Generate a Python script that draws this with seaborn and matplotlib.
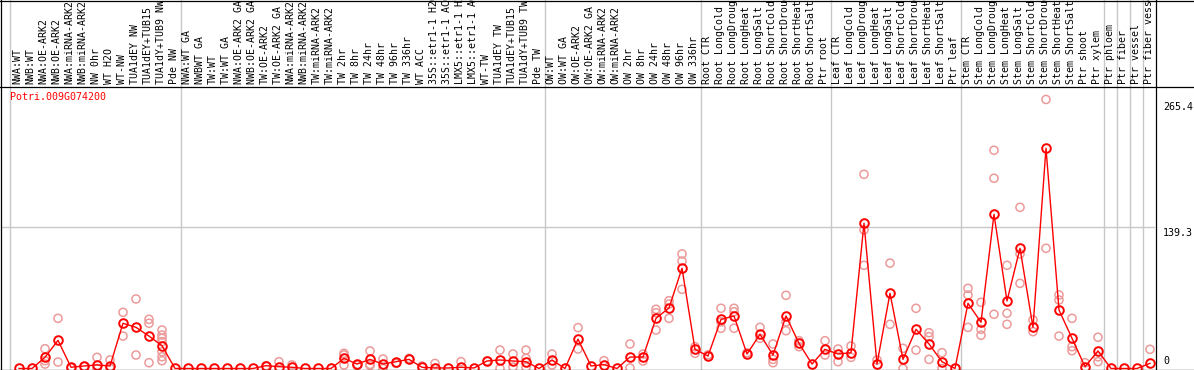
import matplotlib
matplotlib.use("Agg")
import matplotlib.pyplot as plt
import matplotlib.transforms as mtrans
from matplotlib.lines import Line2D
import seaborn as sns
import pandas as pd

gene = "Potri.009G074200"

categories = [
    "NWA:WT", "NWB:WT", "NWA:OE-ARK2", "NWB:OE-ARK2", "NWA:miRNA-ARK2", "NWB:miRNA-ARK2",
    "NW 0hr", "WT H2O", "WT-NW", "TUA1dEY NW", "TUA1dEY+TUB15", "TUA1dY+TUB9 NW", "Pde NW",
    "NWA:WT GA", "NWBWT GA", "TW:WT", "TW:WT GA", "NWA:OE-ARK2 GA", "NWB:OE-ARK2 GA",
    "TW:OE-ARK2", "TW:OE-ARK2 GA", "NWA:miRNA-ARK2", "NWB:miRNA-ARK2", "TW:miRNA-ARK2",
    "TW:miRNA-ARK2", "TW 2hr", "TW 8hr", "TW 24hr", "TW 48hr", "TW 96hr", "TW 336hr",
    "WT ACC", "35S::etr1-1 H2O", "35S::etr1-1 ACC", "LMX5::etr1-1 H2O", "LMX5::etr1-1 ACC",
    "WT-TW", "TUA1dEY TW", "TUA1dEY+TUB15", "TUA1dY+TUB9 TW", "Pde TW",
    "OW:WT", "OW:WT GA", "OW:OE-ARK2", "OW:OE-ARK2 GA", "OW:miRNA-ARK2", "OW:miRNA-ARK2",
    "OW 2hr", "OW 8hr", "OW 24hr", "OW 48hr", "OW 96hr", "OW 336hr",
    "Root CTR", "Root LongCold", "Root LongDrought", "Root LongHeat", "Root LongSalt",
    "Root ShortCold", "Root ShortDrought", "Root ShortHeat", "Root ShortSalt", "Ptr root",
    "Leaf CTR", "Leaf LongCold", "Leaf LongDrought", "Leaf LongHeat", "Leaf LongSalt",
    "Leaf ShortCold", "Leaf ShortDrought", "Leaf ShortHeat", "Leaf ShortSalt", "Ptr leaf",
    "Stem CTR", "Stem LongCold", "Stem LongDrought", "Stem LongHeat", "Stem LongSalt",
    "Stem ShortCold", "Stem ShortDrought", "Stem ShortHeat", "Stem ShortSalt", "Ptr shoot",
    "Ptr xylem", "Ptr phloem", "Ptr fiber", "Ptr vessel", "Ptr fiber vessel",
]

mean_expr = [
    0, 0, 11, 27.8, 1.2, 2.5, 3.5, 2.5, 44.6, 40.6, 32, 22.5, 0,
    0, 0, 0, 0, 0, 0, 2.8, 1.8, 1.2, 0, 0, 0, 10, 4.4, 9, 4.4, 6.7, 9,
    1.2, 0.5, 0.5, 1.2, 0.5, 7.4, 8.4, 7.4, 6.7, 0,
    8.4, 0, 29, 2.5, 3.8, 0, 11.3, 11.3, 49.5, 59.7, 98.9, 18.9,
    12.3, 48.5, 51.8, 14.3, 33.7, 13.3, 51.8, 24.8, 4.4, 18.9,
    14.3, 15.6, 143.3, 4.4, 74.2, 9, 38.7, 24.2, 6.7, 0,
    64.3, 45.6, 152.1, 66.6, 118.6, 40.6, 217.3, 57.7, 29.8, 1.8, 17.3,
    0, 0, 0, 5.1,
]

replicates = [
    [], [], [19.5, 7.7, 4.4], [49.5, 6.4], [0.5], [2], [11, 0], [8.4, 0],
    [55.4, 32], [68.6, 13.3], [48.5, 44.6, 5.7], [38, 33, 29.8, 26.5, 16.6, 11.6, 7.7], [],
    [], [], [], [], [], [], [2.8], [6.7], [3.5], [], [], [],
    [15, 13.3, 3.5], [3], [17.3, 4, 3], [9.4, 0], [5], [10],
    [2.5], [5], [], [6.7], [], [7.4], [18.2, 0], [14.3, 1.5], [18.2, 10, 1.2], [],
    [14.3, 3.5], [], [40.3, 19.2], [], [7.7], [], [24.2, 0.5], [14.3, 7.4],
    [58.4, 55, 38], [66.9, 63.6, 49.5], [113, 106, 78.1], [21.5, 15],
    [13.5], [59.4, 39.7, 46], [59.4, 56, 39.7], [15.5], [40.6, 29.8],
    [24.2, 9, 5.7], [72.2, 37.3, 46], [27.4, 21.5], [], [27.4, 13.3],
    [19.2, 6.7], [22.2, 11], [191.6, 136.7, 101.8], [8.4], [104, 43.6],
    [19.9, 0], [59.4, 18.2], [35.3, 31.4, 9], [15.6, 0], [],
    [79.1, 72.5, 40.6], [65.3, 38.7, 32.8], [215.3, 187.7, 53.5],
    [101.8, 54.5, 43.6], [159, 113, 84], [47.9, 36.3], [265.4, 118.6],
    [72.5, 67.6, 32], [49.5, 21.5, 17.6], [5.7], [30.8, 11.6, 6.7],
    [], [], [], [18.9],
]

separators = [-0.69, 12.5, 40.5, 52.5, 62.5, 72.5, 83.5, 84.5, 85.5, 86.5]
ytick_vals = [265.4, 139.3, 0]
ytick_text = ["265.4", "139.3", "0"]
grid_val = 139.3

RED = "#ff0000"
LIGHT = "#ec9a9a"
GRAY = "#c8c8c8"

plt.rcParams["font.family"] = ["DejaVu Sans Mono", "DejaVu Sans"]

W, H = 1194, 370
fig = plt.figure(figsize=(W / 100, H / 100), dpi=100)
fig.patch.set_facecolor("white")

# axes: pixel x 1..1155, y 86..369 (from top)
ax = fig.add_axes([1 / W, 1 / H, 1154 / W, 283 / H])
ax.set_xlim(-1.3846, 87.385)
ax.set_ylim(-0.5, 278.7)
for s in ax.spines.values():
    s.set_visible(False)
ax.set_xticks([])
ax.set_yticks([])
ax.patch.set_alpha(0)

idx = list(range(len(categories)))
mean_df = pd.DataFrame({"idx": idx, "label": categories, "value": mean_expr})
rep_rows = [(i, v) for i, vals in enumerate(replicates) for v in vals]
rep_df = pd.DataFrame(rep_rows, columns=["idx", "value"])

ax.axhline(grid_val, color=GRAY, lw=1.0, zorder=1)

# separators spanning whole figure height
ymax_ax = (H + 2) / 283.0
for sx in separators:
    ax.axvline(sx, ymin=-0.01, ymax=ymax_ax, color=GRAY, lw=1.0, clip_on=False, zorder=1)

sns.scatterplot(data=rep_df, x="idx", y="value", ax=ax, marker="o", s=34,
                facecolor="none", edgecolor=LIGHT, linewidth=1.1,
                legend=False, clip_on=False, zorder=2)

sns.lineplot(data=mean_df, x="idx", y="value", ax=ax, sort=False, color=RED,
             lw=1.0, marker="o", markersize=6.2, markerfacecolor="none",
             markeredgecolor=RED, markeredgewidth=1.4, clip_on=False, zorder=3)
ax.set_xlabel("")
ax.set_ylabel("")

# category labels in the header
tr = mtrans.blended_transform_factory(ax.transData, fig.transFigure)
for i, lab in enumerate(categories):
    ax.text(i - 0.1, (H - 84) / H, lab, transform=tr, rotation=90, ha="center",
            va="bottom", fontsize=7.1, color="black", clip_on=False)

# title
fig.text(10 / W, (H - 92) / H, gene, color=RED, fontsize=7.2, ha="left", va="top")

# right-side value labels
trr = mtrans.blended_transform_factory(fig.transFigure, ax.transData)
for v, t, va, off in zip(ytick_vals, ytick_text, ["top", "top", "bottom"], [-2.5, -0.5, 2.0]):
    ax.text(1163 / W, v + off, t, transform=trr, ha="left", va=va, fontsize=7.2,
            color="black", clip_on=False)

# black frame lines (pixel coordinates)
def hline(py, x0=0, x1=W):
    fig.add_artist(Line2D([x0 / W, x1 / W], [(H - py) / H] * 2, color="black", lw=0.9,
                          transform=fig.transFigure))

def vline(px, y0=0, y1=H):
    fig.add_artist(Line2D([px / W] * 2, [(H - y0) / H, (H - y1) / H], color="black",
                          lw=0.9, transform=fig.transFigure))

hline(0.5)
hline(86.5)
hline(369.5)
vline(0.5)
vline(1155.5)

fig.savefig("out.png", dpi=100)
